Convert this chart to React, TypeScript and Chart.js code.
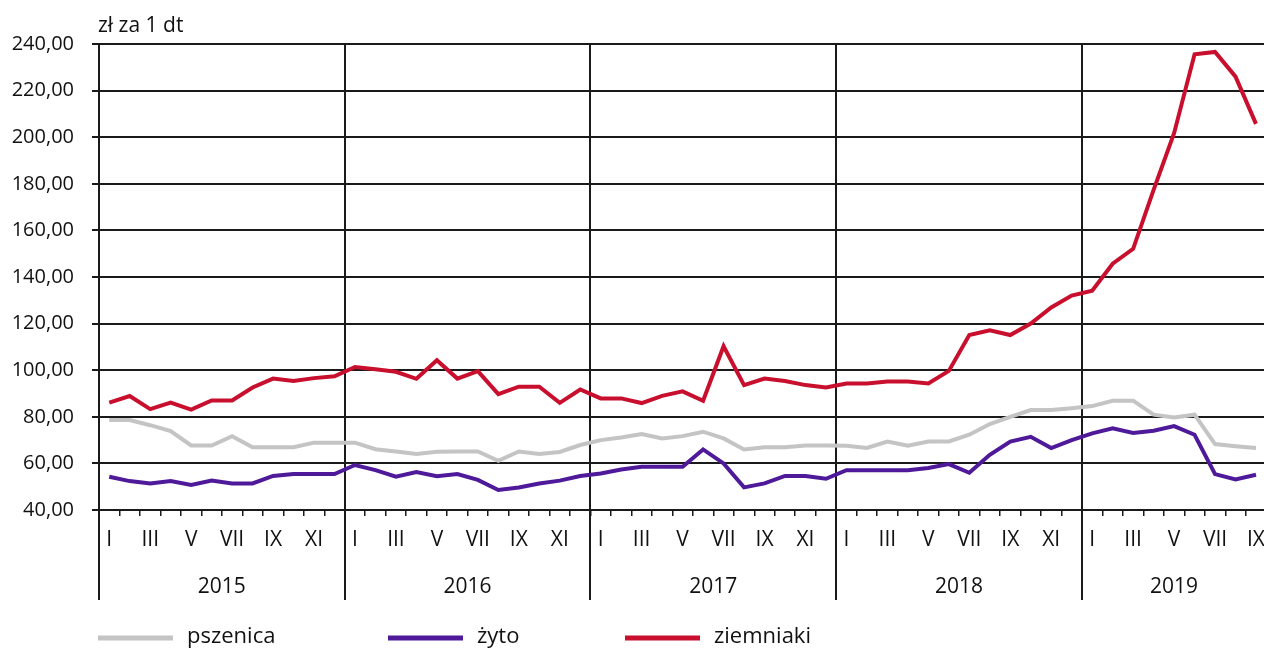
import React, { useEffect, useRef } from 'react';
import { Chart, registerables } from 'chart.js';

Chart.register(...registerables);

const years = ['2015', '2016', '2017', '2018', '2019'];
const monthsInYear = [12, 12, 12, 12, 9];
const monthNames = ['I', 'II', 'III', 'IV', 'V', 'VI', 'VII', 'VIII', 'IX', 'X', 'XI', 'XII'];
const categories: string[] = monthsInYear.flatMap((n) => monthNames.slice(0, n));

const pszenica = [
  78.6, 78.6, 76.4, 73.9, 67.7, 67.7, 71.7, 66.9, 66.9, 66.9, 68.9, 68.9,
  68.9, 66.1, 65.1, 64.0, 65.0, 65.1, 65.1, 61.1, 65.1, 64.0, 64.9, 67.9,
  70.0, 71.1, 72.6, 70.7, 71.7, 73.6, 70.7, 66.0, 66.9, 66.9, 67.7, 67.7,
  67.6, 66.6, 69.4, 67.6, 69.4, 69.4, 72.3, 76.9, 80.0, 82.9, 82.9, 83.7,
  84.6, 86.9, 86.9, 80.9, 79.7, 80.9, 68.3, 67.4, 66.6,
];

const zyto = [
  54.3, 52.4, 51.4, 52.4, 50.7, 52.6, 51.4, 51.4, 54.6, 55.4, 55.4, 55.4,
  59.3, 57.1, 54.3, 56.3, 54.5, 55.4, 52.9, 48.6, 49.7, 51.4, 52.6, 54.6,
  55.7, 57.4, 58.6, 58.6, 58.6, 66.0, 60.0, 49.7, 51.4, 54.6, 54.6, 53.4,
  57.1, 57.1, 57.1, 57.1, 58.0, 59.7, 56.0, 63.7, 69.4, 71.4, 66.6, 70.0,
  72.9, 75.1, 73.1, 74.0, 76.0, 72.3, 55.4, 53.1, 55.1,
];

const ziemniaki = [
  86.1, 88.9, 83.3, 86.1, 83.1, 87.0, 87.0, 92.6, 96.4, 95.4, 96.6, 97.4,
  101.4, 100.4, 99.3, 96.3, 104.3, 96.4, 99.6, 89.7, 92.9, 92.9, 86.0, 91.7,
  87.9, 87.9, 85.9, 89.0, 90.9, 86.9, 110.3, 93.6, 96.4, 95.4, 93.6, 92.6,
  94.3, 94.3, 95.1, 95.1, 94.3, 99.7, 115.1, 117.1, 115.1, 120.0, 126.9, 132.0,
  134.1, 145.7, 152.1, 177.4, 201.7, 235.6, 236.6, 226.0, 205.7,
];

const seriesNames = ['pszenica', 'żyto', 'ziemniaki'];
const seriesColors = ['#c4c4c4', '#4f1a9a', '#c8102e'];
const yTitle = 'zł za 1 dt';

const FONT = '"Open Sans", "Noto Sans", sans-serif';
const INK = '#1a1a1a';

Chart.defaults.font.family = FONT;

const decorPlugin = {
  id: 'decor',
  beforeDatasetsDraw(chart: any) {
    const { ctx, chartArea, scales } = chart;
    const x = scales.x;
    const w = (x.right - x.left) / categories.length;
    ctx.save();
    ctx.strokeStyle = INK;
    ctx.lineWidth = 2;
    let idx = 0;
    monthsInYear.forEach((n) => {
      const ex = Math.round(x.left + idx * w);
      ctx.beginPath();
      ctx.moveTo(ex, chartArea.top);
      ctx.lineTo(ex, 600);
      ctx.stroke();
      idx += n;
    });
    ctx.restore();
  },
  afterDraw(chart: any) {
    const { ctx, chartArea, scales } = chart;
    const x = scales.x;
    const w = (x.right - x.left) / categories.length;
    ctx.save();
    ctx.fillStyle = '#111';
    ctx.textBaseline = 'middle';
    // year labels
    ctx.font = `21px ${FONT}`;
    ctx.textAlign = 'center';
    let idx = 0;
    monthsInYear.forEach((n, k) => {
      const l = x.left + idx * w;
      const r = x.left + (idx + n) * w;
      ctx.fillText(years[k], (l + r) / 2, 587);
      idx += n;
    });
    // y title
    ctx.textAlign = 'left';
    ctx.font = `21px ${FONT}`;
    ctx.fillText(yTitle, chartArea.left - 1, 26);
    // legend
    const legendLineX = [98, 388, 625];
    ctx.font = `22px ${FONT}`;
    seriesNames.forEach((name, i) => {
      ctx.strokeStyle = seriesColors[i];
      ctx.lineWidth = 5;
      ctx.beginPath();
      ctx.moveTo(legendLineX[i], 638);
      ctx.lineTo(legendLineX[i] + 75, 638);
      ctx.stroke();
      ctx.fillStyle = '#111';
      ctx.fillText(name, legendLineX[i] + 89, 637);
    });
    ctx.restore();
  },
};

export default function App() {
  const ref = useRef<HTMLCanvasElement | null>(null);

  useEffect(() => {
    document.body.style.margin = '0';
    if (!ref.current) return;
    const data = [pszenica, zyto, ziemniaki];
    const chart = new Chart(ref.current, {
      type: 'line',
      data: {
        labels: categories,
        datasets: data.map((d, i) => ({
          label: seriesNames[i],
          data: d,
          borderColor: seriesColors[i],
          backgroundColor: seriesColors[i],
          borderWidth: 4,
          pointRadius: 0,
          tension: 0,
          fill: false,
          order: 3 - i,
        })),
      },
      options: {
        responsive: false,
        animation: false,
        devicePixelRatio: 1,
        layout: { padding: { left: 0, right: 0, top: 44, bottom: 0 } },
        plugins: {
          legend: { display: false },
          tooltip: { enabled: false },
        },
        scales: {
          x: {
            type: 'category',
            offset: true,
            grid: {
              display: true,
              drawOnChartArea: false,
              drawTicks: true,
              tickLength: 6,
              offset: true,
              color: INK,
              tickColor: INK,
              lineWidth: 1.5,
            },
            border: { display: true, color: INK, width: 2 },
            ticks: {
              autoSkip: false,
              maxRotation: 0,
              minRotation: 0,
              padding: 11,
              color: '#111',
              font: { family: FONT, size: 21 },
              callback: (_v: any, i: number) => (i % 2 === 0 ? categories[i] : ''),
            },
            afterFit: (s: any) => {
              s.height = 140;
            },
          },
          y: {
            min: 40,
            max: 240,
            grid: {
              color: INK,
              tickColor: INK,
              lineWidth: 2,
              drawTicks: true,
              tickLength: 7,
            },
            border: { display: true, color: INK, width: 2 },
            ticks: {
              stepSize: 20,
              padding: 18,
              color: '#111',
              font: { family: FONT, size: 20 },
              callback: (v: any) => Number(v).toFixed(2).replace('.', ','),
            },
            afterFit: (s: any) => {
              s.width = 99;
            },
          },
        },
      },
      plugins: [decorPlugin],
    });
    return () => chart.destroy();
  }, []);

  return (
    <div style={{ position: 'absolute', left: 0, top: 0, width: 1264, height: 650, overflow: 'hidden', background: '#fff' }}>
      <canvas ref={ref} width={1276} height={650} style={{ display: 'block' }} />
    </div>
  );
}
